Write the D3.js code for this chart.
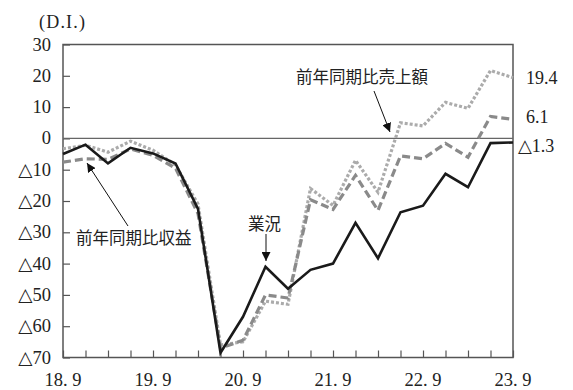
<!DOCTYPE html>
<html>
<head>
<meta charset="utf-8">
<script src="https://cdn.jsdelivr.net/npm/d3@7/dist/d3.min.js"></script>
<style>
  body { margin: 0; background: #fff; }
  svg { display: block; }
  text { font-family: "Liberation Serif", "DejaVu Serif", "Noto Sans CJK JP", serif; fill: #222; }
  .jp { font-family: "Noto Sans CJK JP", sans-serif; }
</style>
</head>
<body>
<svg id="chart" width="573" height="390"></svg>
<script>
// Quarterly periods (Sep 2018 – Sep 2023)
const periods = ["18.9","18.12","19.3","19.6","19.9","19.12","20.3","20.6","20.9","20.12",
                 "21.3","21.6","21.9","21.12","22.3","22.6","22.9","22.12","23.3","23.6","23.9"];
const tickLabels = ["18.9","19.9","20.9","21.9","22.9","23.9"];
const yTicks = [30, 20, 10, 0, -10, -20, -30, -40, -50, -60, -70];

// 業況 D.I.
const gyokyo = [-5, -2, -8, -3, -4.8, -8, -22.5, -68.5, -57, -41, -48, -42, -40, -27, -38.3, -23.6, -21.5, -11.3, -15.6, -1.5, -1.3];
// 前年同期比収益 D.I.
const shueki = [-7.6, -6.5, -6.7, -3.4, -5.4, -9.5, -24, -67, -64.5, -50, -51, -19.6, -22.7, -11.8, -23, -5.6, -6.5, -1.6, -6, 7, 6.1];
// 前年同期比売上額 D.I.
const uriage = [-3.3, -2.2, -4.4, -0.9, -3.8, -8.5, -21, -66, -65, -52, -53, -16, -21.4, -7, -17.2, 5, 4, 11.5, 9.6, 21.7, 19.4];

const svg = d3.select("#chart");
const plotL = 63, plotR = 513, plotT = 44.5, plotB = 357.5;

const x = d3.scalePoint().domain(periods).range([plotL, plotR]);
const y = d3.scaleLinear().domain([-70, 30]).range([plotB, plotT]);

const fmt = v => v < 0 ? "△" + Math.abs(v) : String(v);

// y axis: ticks pointing into the plot
const yAxis = svg.append("g").attr("transform", `translate(${plotL},0)`)
  .call(d3.axisRight(y).tickValues(yTicks).tickSize(7).tickFormat(""));
yAxis.select(".domain").remove();
yAxis.selectAll("line").attr("stroke", "#555").attr("stroke-width", 1.2);

yTicks.forEach(v => {
  svg.append("text").attr("x", 51).attr("y", y(v) + 6)
    .attr("text-anchor", "end").attr("font-size", 18.5).text(fmt(v));
});

// x axis: ticks pointing up
const xAxis = svg.append("g").attr("transform", `translate(0,${plotB})`)
  .call(d3.axisTop(x).tickSize(7).tickFormat(""));
xAxis.select(".domain").remove();
xAxis.selectAll("line").attr("stroke", "#555").attr("stroke-width", 1.2);

tickLabels.forEach(p => {
  svg.append("text").attr("x", x(p)).attr("y", 386)
    .attr("text-anchor", "middle").attr("font-size", 18.5)
    .text(p.replace(".", ". "));
});

// frame
svg.append("rect").attr("x", plotL).attr("y", plotT).attr("width", plotR - plotL).attr("height", plotB - plotT)
  .attr("fill", "none").attr("stroke", "#555").attr("stroke-width", 1.5);
// zero line
svg.append("line").attr("x1", plotL).attr("x2", plotR).attr("y1", y(0)).attr("y2", y(0))
  .attr("stroke", "#666").attr("stroke-width", 1.3);

const line = d3.line().x((d, i) => x(periods[i])).y(d => y(d));

svg.append("path").datum(uriage).attr("d", line).attr("fill", "none")
  .attr("stroke", "#ababab").attr("stroke-width", 3.2).attr("stroke-dasharray", "3,2");
svg.append("path").datum(shueki).attr("d", line).attr("fill", "none")
  .attr("stroke", "#8a8a8a").attr("stroke-width", 3.2).attr("stroke-dasharray", "8,4");
svg.append("path").datum(gyokyo).attr("d", line).attr("fill", "none")
  .attr("stroke", "#1a1a1a").attr("stroke-width", 2.6).attr("stroke-linejoin", "miter");

// unit label
svg.append("text").attr("x", 39).attr("y", 28).attr("font-size", 18)
  .attr("textLength", 46).attr("lengthAdjust", "spacing").text("(D.I.)");

// latest values at right end
const last = periods.length - 1;
svg.append("text").attr("x", 526).attr("y", y(uriage[last]) + 6).attr("font-size", 18).text(fmt(uriage[last]));
svg.append("text").attr("x", 526).attr("y", y(shueki[last]) + 4).attr("font-size", 18).text(fmt(shueki[last]));
svg.append("text").attr("x", 518).attr("y", y(gyokyo[last]) + 10).attr("font-size", 18).text(fmt(gyokyo[last]));

// annotations with arrows
const defs = svg.append("defs");
defs.append("marker").attr("id", "arrow").attr("viewBox", "0 0 10 10")
  .attr("refX", 10).attr("refY", 5).attr("markerWidth", 9).attr("markerHeight", 9)
  .attr("markerUnits", "userSpaceOnUse").attr("orient", "auto")
  .append("path").attr("d", "M0,0 L10,5 L0,10 z").attr("fill", "#111");

function note(text, tx, ty, x1, y1, x2, y2) {
  svg.append("text").attr("class", "jp").attr("x", tx).attr("y", ty).attr("font-size", 16.5).text(text);
  svg.append("line").attr("x1", x1).attr("y1", y1).attr("x2", x2).attr("y2", y2)
    .attr("stroke", "#111").attr("stroke-width", 1).attr("marker-end", "url(#arrow)");
}
note("前年同期比売上額", 296, 83, 374, 91, 390, 132);
note("業況", 248, 230, 266, 234, 266, 261);
note("前年同期比収益", 76, 244, 128, 226, 87, 163);
</script>
</body>
</html>
